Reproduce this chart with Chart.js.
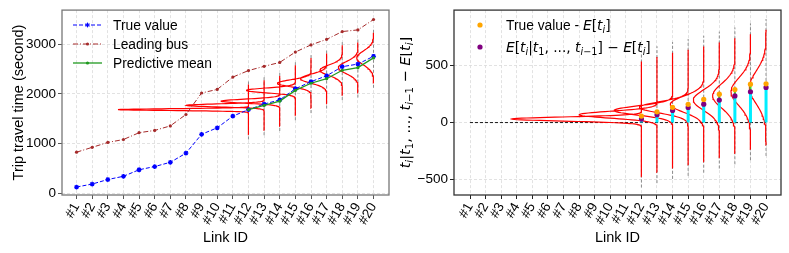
<!DOCTYPE html>
<html>
<head>
<meta charset="utf-8">
<script src="https://cdn.jsdelivr.net/npm/chart.js@4.4.0/dist/chart.umd.min.js"></script>
<style>
  body { margin: 0; background: #fff; }
  canvas { position: absolute; top: 0; }
  #travelChart { left: 0; }
  #deviationChart { left: 400px; }
</style>
</head>
<body>
<canvas id="travelChart" width="400" height="253"></canvas>
<canvas id="deviationChart" width="389" height="253"></canvas>
<script>
// ---- data ----
const linkIds = [1, 2, 3, 4, 5, 6, 7, 8, 9, 10, 11, 12, 13, 14, 15, 16, 17, 18, 19, 20];
const trueValue = [130, 190, 281, 346, 477, 542, 627, 810, 1190, 1320, 1555, 1686, 1797, 1882, 2105, 2248, 2366, 2549, 2601, 2758];
const leadingBus = [830, 928, 1026, 1085, 1222, 1268, 1359, 1588, 2020, 2092, 2340, 2471, 2556, 2634, 2843, 2987, 3098, 3255, 3288, 3497];

const predLinks = [12, 13, 14, 15, 16, 17, 18, 19, 20];
const predictiveMean = [1686, 1771, 1856, 2072, 2216, 2307, 2477, 2529, 2725];
const predictiveStd = [18, 30, 40, 48, 70, 90, 105, 120, 140];
const condMinusMean = [31, 69, 106, 133, 161, 197, 234, 270, 308];
const trueMinusMean = [57, 94, 134, 160, 203, 249, 289, 337, 340];

const leftTicks = [0, 1000, 2000, 3000];
const rightTicks = [-500, 0, 500];

const curveHalfRange = 505;
const spanHalfRange = 600;
const densityScale = 150;

const TEXT_FONT = "'Liberation Sans', Arial, sans-serif";
const MATH_FONT = "'DejaVu Sans', sans-serif";
const TICK_SIZE = 13.5;
const TITLE_SIZE = 14.5;
const LEGEND_SIZE = 13.8;

// ---- helpers that turn the arrays into chart points ----
function densityCurves(means) {
    const pts = [];
    predLinks.forEach((link, k) => {
        const mu = means[k];
        const sd = predictiveStd[k];
        const ys = [mu - curveHalfRange, mu + curveHalfRange];
        for (let z = -6; z <= 6.001; z += 0.1) {
            if (Math.abs(z * sd) < curveHalfRange) ys.push(mu + z * sd);
        }
        ys.sort((a, b) => a - b);
        ys.forEach((y) => {
            const z = (y - mu) / sd;
            pts.push({ x: link - (densityScale / sd) * Math.exp(-0.5 * z * z), y: y });
        });
        pts.push({ x: link, y: null });
    });
    return pts;
}

function segments(from, to) {
    const pts = [];
    predLinks.forEach((link, k) => {
        pts.push({ x: link, y: from[k] }, { x: link, y: to[k] }, { x: link, y: null });
    });
    return pts;
}

function mathParts(src) {
    const parts = [];
    let i = 0;
    while (i < src.length) {
        let sub = false;
        let chunk;
        if (src[i] === "_") {
            sub = true;
            i++;
            if (src[i] === "{") {
                const end = src.indexOf("}", i);
                chunk = src.slice(i + 1, end);
                i = end + 1;
            } else {
                chunk = src[i];
                i++;
            }
        } else {
            chunk = src[i];
            i++;
        }
        for (const ch of chunk) {
            parts.push({ t: ch, it: /[a-zA-Z]/.test(ch), sub: sub, math: true });
        }
    }
    return parts;
}

function partFont(p, size) {
    const fs = p.sub ? size * 0.7 : size;
    return (p.it ? "italic " : "") + fs + "px " + (p.math ? MATH_FONT : TEXT_FONT);
}

function richWidth(ctx, parts, size) {
    let w = 0;
    parts.forEach((p) => {
        ctx.font = partFont(p, size);
        w += ctx.measureText(p.t).width;
    });
    return w;
}

function drawRich(ctx, parts, x, y, size) {
    parts.forEach((p) => {
        ctx.font = partFont(p, size);
        ctx.fillText(p.t, x, p.sub ? y + size * 0.22 : y);
        x += ctx.measureText(p.t).width;
    });
}

// ---- plugins ----
const framePlugin = {
    id: "frame",
    afterDatasetsDraw(chart, args, opts) {
        const { ctx, chartArea: a } = chart;
        ctx.save();
        ctx.strokeStyle = opts.color;
        ctx.lineWidth = 1.3;
        ctx.strokeRect(a.left, a.top, a.right - a.left, a.bottom - a.top);
        ctx.restore();
    },
};

const legendPlugin = {
    id: "sampleLegend",
    afterDraw(chart, args, opts) {
        if (!opts.items) return;
        const ctx = chart.ctx;
        opts.items.forEach((item, i) => {
            const ds = chart.data.datasets[item.dataset];
            const y = opts.y + i * opts.rowGap;
            ctx.save();
            if (ds.showLine) {
                ctx.strokeStyle = ds.borderColor;
                ctx.lineWidth = ds.borderWidth;
                ctx.setLineDash(ds.borderDash || []);
                ctx.beginPath();
                ctx.moveTo(opts.x, y);
                ctx.lineTo(opts.x + opts.lineLength, y);
                ctx.stroke();
            }
            ctx.setLineDash([]);
            ctx.fillStyle = ds.pointBackgroundColor;
            ctx.strokeStyle = ds.pointBorderColor;
            Chart.helpers.drawPoint(ctx, {
                pointStyle: ds.pointStyle,
                radius: ds.pointRadius,
                borderWidth: ds.pointBorderWidth,
                rotation: 0,
            }, opts.x + opts.lineLength / 2, y);
            ctx.fillStyle = "#000";
            ctx.textBaseline = "alphabetic";
            drawRich(ctx, item.parts, opts.textX, y + opts.size * 0.36, opts.size);
            ctx.restore();
        });
    },
};

const mathTitlePlugin = {
    id: "mathTitle",
    afterDraw(chart, args, opts) {
        if (!opts.parts) return;
        const ctx = chart.ctx;
        const a = chart.chartArea;
        ctx.save();
        ctx.fillStyle = "#000";
        const w = richWidth(ctx, opts.parts, opts.size);
        ctx.translate(opts.x, (a.top + a.bottom) / 2);
        ctx.rotate(-Math.PI / 2);
        drawRich(ctx, opts.parts, -w / 2, opts.size * 0.36, opts.size);
        ctx.restore();
    },
};

// ---- axes ----
function linkAxis(min, max, tickColor) {
    return {
        type: "linear",
        min: min,
        max: max,
        afterBuildTicks: (axis) => {
            axis.ticks = linkIds.map((v) => ({ value: v }));
        },
        afterFit: (axis) => {
            axis.height = 58;
        },
        ticks: {
            autoSkip: false,
            minRotation: 60,
            maxRotation: 60,
            padding: 1,
            color: "#000",
            font: { family: TEXT_FONT, size: TICK_SIZE },
            callback: (v) => "#" + v,
        },
        grid: { color: "#dadada", lineWidth: 0.8, tickColor: tickColor, tickLength: 4, tickWidth: 1 },
        border: { display: false, dash: [3, 2] },
        title: {
            display: true,
            text: "Link ID",
            color: "#000",
            font: { family: TEXT_FONT, size: TITLE_SIZE },
            padding: { top: 0, bottom: 6 },
        },
    };
}

function valueAxis(min, max, tickValues, width, tickColor) {
    return {
        type: "linear",
        min: min,
        max: max,
        afterBuildTicks: (axis) => {
            axis.ticks = tickValues.map((v) => ({ value: v }));
        },
        afterFit: (axis) => {
            axis.width = width;
        },
        ticks: {
            padding: 2,
            color: "#000",
            font: { family: TEXT_FONT, size: TICK_SIZE },
            callback: (v) => (v < 0 ? "\u2212" + Math.abs(v) : String(v)),
        },
        grid: { color: "#dadada", lineWidth: 0.8, tickColor: tickColor, tickLength: 4, tickWidth: 1 },
        border: { display: false, dash: [3, 2] },
    };
}

// ---- left: trip travel time ----
const leftY = valueAxis(-30, 3686, leftTicks, 62, "#555");
leftY.title = {
    display: true,
    text: "Trip travel time (second)",
    color: "#000",
    font: { family: TEXT_FONT, size: TITLE_SIZE },
    padding: { top: 10, bottom: 0 },
};

new Chart(document.getElementById("travelChart"), {
    type: "scatter",
    data: {
        datasets: [
            {
                label: "Predictive mean",
                data: predLinks.map((l, k) => ({ x: l, y: predictiveMean[k] })),
                showLine: true,
                borderColor: "#1f9a1f",
                borderWidth: 1.3,
                pointStyle: "circle",
                pointRadius: 1.6,
                pointBorderWidth: 0,
                pointBackgroundColor: "#1f9a1f",
                pointBorderColor: "#1f9a1f",
                order: 1,
            },
            {
                label: "True value",
                data: linkIds.map((l, k) => ({ x: l, y: trueValue[k] })),
                showLine: true,
                borderColor: "#0000ff",
                borderWidth: 1,
                borderDash: [4, 2],
                pointStyle: "star",
                pointRadius: 2.4,
                pointBorderWidth: 1.3,
                pointBackgroundColor: "#0000ff",
                pointBorderColor: "#0000ff",
                order: 2,
            },
            {
                label: "Leading bus",
                data: linkIds.map((l, k) => ({ x: l, y: leadingBus[k] })),
                showLine: true,
                borderColor: "#a52a2a",
                borderWidth: 1,
                borderDash: [5, 2, 1, 2],
                pointStyle: "circle",
                pointRadius: 1.6,
                pointBorderWidth: 0,
                pointBackgroundColor: "#a52a2a",
                pointBorderColor: "#a52a2a",
                order: 3,
            },
            {
                label: "density",
                data: densityCurves(predictiveMean),
                showLine: true,
                spanGaps: false,
                borderColor: "#ff0000",
                borderWidth: 1.2,
                pointRadius: 0,
                order: 4,
            },
            {
                label: "range",
                data: segments(
                    predictiveMean.map((m) => m - spanHalfRange),
                    predictiveMean.map((m) => m + spanHalfRange)
                ),
                showLine: true,
                spanGaps: false,
                borderColor: "#8c8c8c",
                borderWidth: 1,
                borderDash: [3, 2],
                pointRadius: 0,
                order: 5,
            },
        ],
    },
    options: {
        responsive: false,
        animation: false,
        layout: { padding: { left: 0, top: 7, right: 11, bottom: 0 } },
        scales: {
            x: linkAxis(0.07, 20.99, "#555"),
            y: leftY,
        },
        plugins: {
            legend: { display: false },
            tooltip: { enabled: false },
            frame: { color: "#777" },
            sampleLegend: {
                x: 73,
                lineLength: 29,
                textX: 113,
                y: 25,
                rowGap: 19,
                size: LEGEND_SIZE,
                items: [
                    { dataset: 1, parts: [{ t: "True value" }] },
                    { dataset: 2, parts: [{ t: "Leading bus" }] },
                    { dataset: 0, parts: [{ t: "Predictive mean" }] },
                ],
            },
        },
    },
    plugins: [framePlugin, legendPlugin],
});

// ---- right: deviation from unconditional mean ----
new Chart(document.getElementById("deviationChart"), {
    type: "scatter",
    data: {
        datasets: [
            {
                label: "True value - E[t_i]",
                data: predLinks.map((l, k) => ({ x: l, y: trueMinusMean[k] })),
                pointStyle: "circle",
                pointRadius: 2.6,
                pointBorderWidth: 0,
                pointBackgroundColor: "#ffa500",
                pointBorderColor: "#ffa500",
                order: 1,
            },
            {
                label: "E[t_i|t_1,...,t_i-1] - E[t_i]",
                data: predLinks.map((l, k) => ({ x: l, y: condMinusMean[k] })),
                pointStyle: "circle",
                pointRadius: 2.6,
                pointBorderWidth: 0,
                pointBackgroundColor: "#800080",
                pointBorderColor: "#800080",
                order: 1,
            },
            {
                label: "residual",
                data: segments(condMinusMean, trueMinusMean),
                showLine: true,
                spanGaps: false,
                borderColor: "#33dd33",
                borderWidth: 2,
                pointRadius: 0,
                order: 2,
            },
            {
                label: "shift",
                data: segments(predLinks.map(() => 0), condMinusMean),
                showLine: true,
                spanGaps: false,
                borderColor: "#00eeff",
                borderWidth: 3,
                pointRadius: 0,
                order: 3,
            },
            {
                label: "density",
                data: densityCurves(condMinusMean),
                showLine: true,
                spanGaps: false,
                borderColor: "#ff0000",
                borderWidth: 1.2,
                pointRadius: 0,
                order: 4,
            },
            {
                label: "zero",
                data: [{ x: linkIds[0], y: 0 }, { x: linkIds[linkIds.length - 1], y: 0 }],
                showLine: true,
                borderColor: "#000",
                borderWidth: 0.9,
                borderDash: [3, 2],
                pointRadius: 0,
                order: 5,
            },
            {
                label: "range",
                data: segments(
                    condMinusMean.map((m) => m - spanHalfRange),
                    condMinusMean.map((m) => m + spanHalfRange)
                ),
                showLine: true,
                spanGaps: false,
                borderColor: "#8c8c8c",
                borderWidth: 1,
                borderDash: [3, 2],
                pointRadius: 0,
                order: 6,
            },
        ],
    },
    options: {
        responsive: false,
        animation: false,
        layout: { padding: { left: 0, top: 6, right: 8, bottom: 0 } },
        scales: {
            x: linkAxis(-0.03, 20.96, "#222"),
            y: valueAxis(-635, 986, rightTicks, 54, "#222"),
        },
        plugins: {
            legend: { display: false },
            tooltip: { enabled: false },
            frame: { color: "#333" },
            mathTitle: {
                x: 5,
                size: TITLE_SIZE,
                parts: mathParts("t_i|t_1, ..., t_{i\u22121} \u2212 E[t_i]"),
            },
            sampleLegend: {
                x: 72,
                lineLength: 16,
                textX: 106,
                y: 25,
                rowGap: 22,
                size: LEGEND_SIZE,
                items: [
                    { dataset: 0, parts: [{ t: "True value - " }].concat(mathParts("E[t_i]")) },
                    { dataset: 1, parts: mathParts("E[t_i|t_1, ..., t_{i\u22121}] \u2212 E[t_i]") },
                ],
            },
        },
    },
    plugins: [framePlugin, legendPlugin, mathTitlePlugin],
});
</script>
</body>
</html>
